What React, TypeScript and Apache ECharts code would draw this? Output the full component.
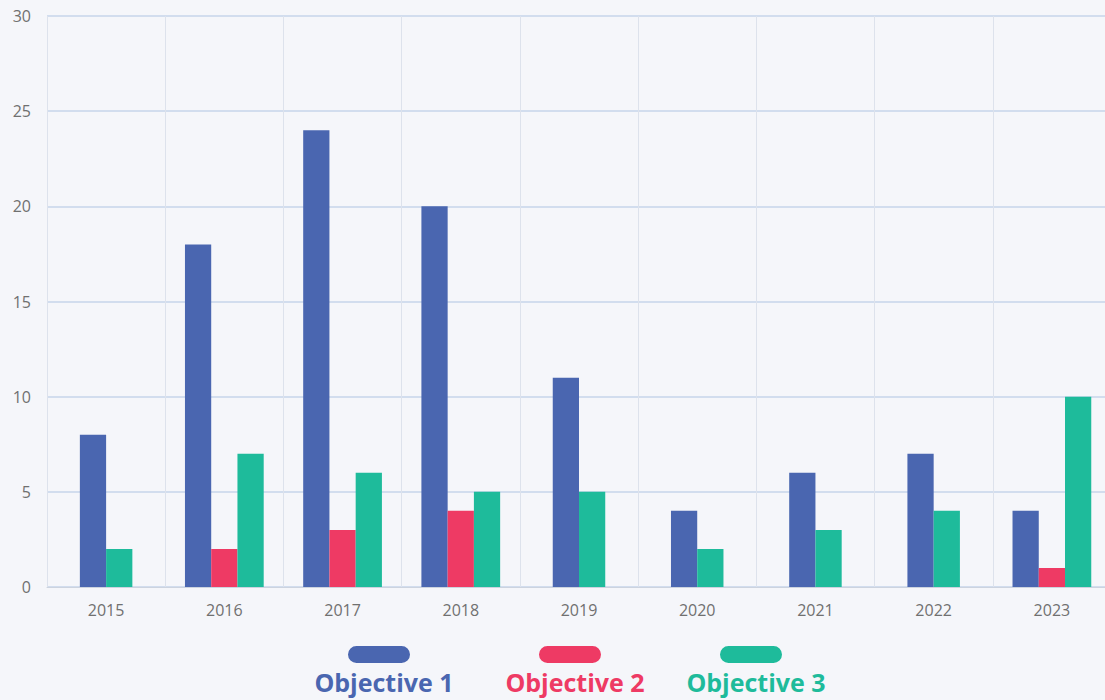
import React, { useEffect, useRef } from "react";
import * as echarts from "echarts";

const categories = ["2015", "2016", "2017", "2018", "2019", "2020", "2021", "2022", "2023"];
const objective1 = [8, 18, 24, 20, 11, 4, 6, 7, 4];
const objective2 = [0, 2, 3, 4, 0, 0, 0, 0, 1];
const objective3 = [2, 7, 6, 5, 5, 2, 3, 4, 10];
const seriesNames = ["Objective 1", "Objective 2", "Objective 3"];
const colors = ["#4a66b0", "#ee3a64", "#1ebb9b"];
const yTicks = { min: 0, max: 30, interval: 5 };

export default function App() {
  const ref = useRef<HTMLDivElement>(null);
  useEffect(() => {
    if (!ref.current) return;
    const chart = echarts.init(ref.current, undefined, { renderer: "svg" });
    const all = [objective1, objective2, objective3];
    const counts = categories.map((_, i) => all.filter((s) => s[i] > 0).length);
    const series = all.map((vals, si) => {
      const data: number[][] = [];
      vals.forEach((v, i) => {
        if (v > 0) {
          let pos = 0;
          for (let k = 0; k < si; k++) if (all[k][i] > 0) pos++;
          data.push([i, v, pos, counts[i]]);
        }
      });
      return {
        type: "custom",
        name: seriesNames[si],
        encode: { x: 0, y: 1 },
        data,
        renderItem: (params: any, api: any) => {
          const i = api.value(0);
          const v = api.value(1);
          const pos = api.value(2);
          const n = api.value(3);
          const base = api.coord([i, 0]);
          const top = api.coord([i, v]);
          const bw = api.size([1, 0])[0] * 0.222;
          const x = base[0] - (n * bw) / 2 + pos * bw;
          return {
            type: "rect",
            shape: { x, y: top[1], width: bw, height: base[1] - top[1] },
            style: { fill: colors[si] },
          };
        },
      };
    });
    const legendCenters = [381, 572, 753];
    const graphic: any[] = [];
    seriesNames.forEach((name, i) => {
      graphic.push({
        type: "rect",
        x: legendCenters[i] - 33,
        y: 646,
        shape: { width: 62, height: 17, r: 8.5 },
        style: { fill: colors[i] },
      });
      graphic.push({
        type: "text",
        x: legendCenters[i] + 3,
        y: 682,
        style: {
          text: name,
          fill: colors[i],
          font: "bold 25px 'Open Sans', sans-serif",
          textAlign: "center",
          textVerticalAlign: "middle",
        },
      });
    });
    chart.setOption({
      animation: false,
      backgroundColor: "#f5f6fa",
      grid: {
        left: 47,
        top: 16,
        width: 1064,
        height: 571,
        containLabel: false,
        outerBoundsMode: "none",
      },
      xAxis: {
        type: "category",
        data: categories,
        boundaryGap: true,
        axisTick: { show: false },
        axisLine: { lineStyle: { color: "#ccd3df", width: 1 } },
        axisLabel: { color: "#707070", fontSize: 16, margin: 15, fontFamily: "Open Sans" },
        splitLine: { show: true, lineStyle: { color: "#dde2ec", width: 1 } },
      },
      yAxis: {
        type: "value",
        min: yTicks.min,
        max: yTicks.max,
        interval: yTicks.interval,
        axisLine: { show: false },
        axisTick: { show: false },
        axisLabel: { color: "#707070", fontSize: 16, margin: 16, fontFamily: "Open Sans" },
        splitLine: { lineStyle: { color: "#c6d4ea", width: 1.5 } },
      },
      graphic,
      series,
    });
    return () => chart.dispose();
  }, []);
  return (
    <div
      ref={ref}
      style={{ position: "fixed", left: 0, top: 0, width: 1105, height: 700 }}
    />
  );
}
